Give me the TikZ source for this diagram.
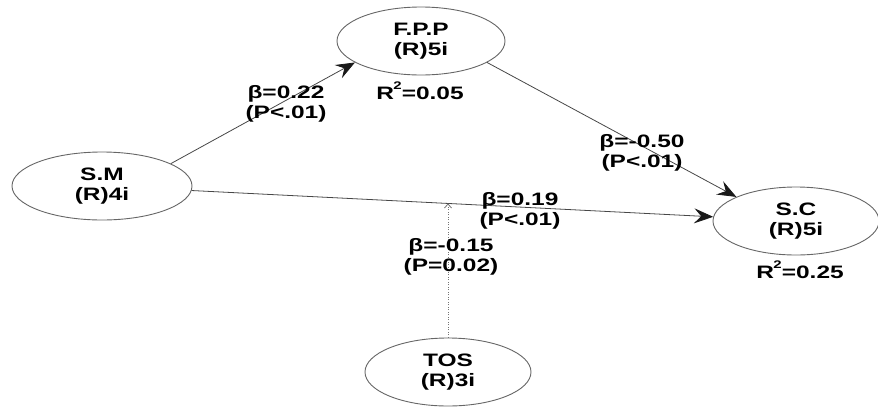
\documentclass[tikz,border=0pt]{standalone}
\usepackage{fontspec}
\setmainfont{Liberation Sans}[FakeStretch=1.36]
\usetikzlibrary{shapes.geometric,arrows.meta}
\begin{document}
\begin{tikzpicture}[x=1pt,y=-1pt,
  every node/.style={font=\fontsize{18}{20}\selectfont\bfseries, text=black},
  var/.style={ellipse, draw=black!60, line width=0.9pt, fill=white,
    minimum width=168pt, minimum height=68pt, inner sep=0pt, align=center},
  lbl/.style={align=center, inner sep=0pt},
  arr/.style={draw=black!72, line width=0.8pt,
    -{Stealth[length=19pt,width=15pt,inset=7pt,color=black!90]}},
  dotarr/.style={draw=black!55, line width=0.8pt, dash pattern=on 1pt off 1.5pt,
    -{Straight Barb[length=4pt,width=7pt]}}]
\useasboundingbox (0,0) rectangle (878,408);
\node[var] (fpp) at (421,41) {F.P.P\\(R)5i};
\node[var, minimum width=180pt] (sm) at (102,186) {S.M\\(R)4i};
\node[var, minimum width=166pt] (sc) at (796,221) {S.C\\(R)5i};
\node[var, minimum width=166pt] (tos) at (448,372) {TOS\\(R)3i};
\draw[arr] (sm.18) -- (fpp.198);
\draw[arr] (fpp.-18) -- (sc.158);
\draw[arr] (sm) -- (sc) coordinate[pos=0.49] (mid);
\draw[dotarr] (tos.north) -- (tos.north |- mid);
\node[lbl] (l1) at (286,104) {\char"03B2=0.22\\(P<.01)};
\node[lbl] (r1) at (420,91) {R\kern-0.5pt\raisebox{0.55em}{\fontsize{11}{11}\selectfont 2}=0.05};
\node[lbl] (l2) at (642,153) {\char"03B2=-0.50\\(P<.01)};
\node[lbl] (l3) at (520,211) {\char"03B2=0.19\\(P<.01)};
\node[lbl] (l4) at (451,257) {\char"03B2=-0.15\\(P=0.02)};
\node[lbl] (r2) at (800,270) {R\kern-0.5pt\raisebox{0.55em}{\fontsize{11}{11}\selectfont 2}=0.25};
\end{tikzpicture}
\end{document}
